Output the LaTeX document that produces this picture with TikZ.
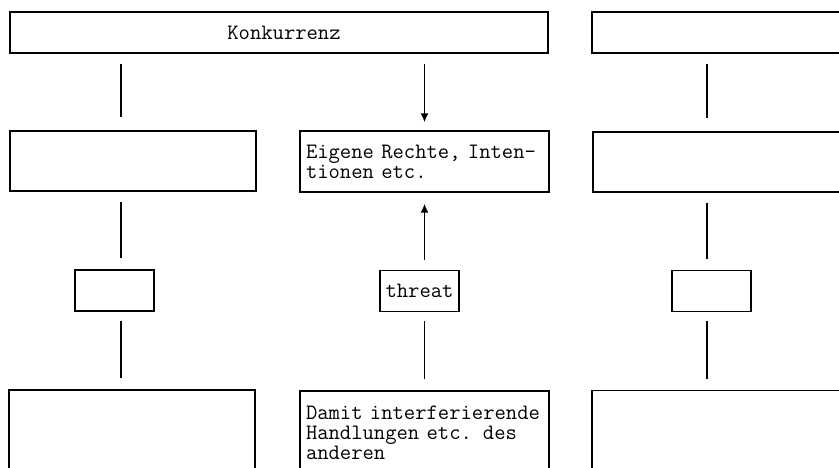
\documentclass[tikz,border=0pt]{standalone}
\usepackage{fontspec}
\usetikzlibrary{arrows.meta}
\begin{document}
\begin{tikzpicture}[x=1pt,y=-1pt,
  box/.style={draw, line width=1.4pt, inner sep=0pt,
    font=\ttfamily\fontsize{22}{20}\selectfont},
  textbox/.style={box, text width=237pt, align=left},
  link/.style={line width=1.6pt, shorten <=10pt, shorten >=11pt},
  arrowlink/.style={link, -{Latex[length=9pt,width=8pt]}}]
\useasboundingbox (0,0) rectangle (839,468);
\clip (0,0) rectangle (839,468);
\fill[white] (0,0) rectangle (839,468);

% column axes for the connectors
\coordinate (cL) at (121,0);
\coordinate (cM) at (424.5,0);
\coordinate (cR) at (707,0);

% top row
\node[box, minimum width=538pt, minimum height=41pt] (konk) at (279,32.5) {\hspace*{10pt}Konkurrenz};
\node[box, minimum width=262pt, minimum height=41pt] (topR) at (723,32.5) {};

% second row
\node[box, minimum width=246pt, minimum height=60pt] (rowL) at (133,161) {};
\node[textbox, minimum width=249pt, minimum height=61pt] (eig) at (424.5,161.5)
  {Eigene Rechte, Inten-\\tionen etc.};
\node[box, minimum width=262pt, minimum height=60pt] (rowR) at (724,162) {};

% third row
\node[box, minimum width=79pt, minimum height=41pt] (smL) at (114.5,290.5) {};
\node[box, minimum width=79pt, minimum height=41pt] (thr) at (419.5,291) {threat};
\node[box, minimum width=79pt, minimum height=41pt] (smR) at (711.5,291) {};

% bottom row
\node[box, minimum width=246pt, minimum height=84pt] (botL) at (132,432) {};
\node[textbox, minimum width=249pt, minimum height=83pt] (dam) at (424.5,432.5)
  {Damit interferierende\\Handlungen etc. des\\anderen};
\node[box, minimum width=263pt, minimum height=84pt] (botR) at (723.5,432.5) {};

% connectors, top to second row
\draw[link, shorten >=13pt] (konk.south -| cL) -- (rowL.north -| cL);
\draw[arrowlink, shorten >=8pt] (konk.south -| cM) -- (eig.north -| cM);
\draw[link, shorten >=13pt] (topR.south -| cR) -- (rowR.north -| cR);

% second to third row
\draw[link] (rowL.south -| cL) -- (smL.north -| cL);
\draw[arrowlink] (thr.north -| cM) -- (eig.south -| cM);
\draw[link] (rowR.south -| cR) -- (smR.north -| cR);

% third to bottom row
\draw[link, shorten <=9pt] (smL.south -| cL) -- (botL.north -| cL);
\draw[link, shorten <=9pt] (thr.south -| cM) -- (dam.north -| cM);
\draw[link, shorten <=9pt] (smR.south -| cR) -- (botR.north -| cR);
\end{tikzpicture}
\end{document}
